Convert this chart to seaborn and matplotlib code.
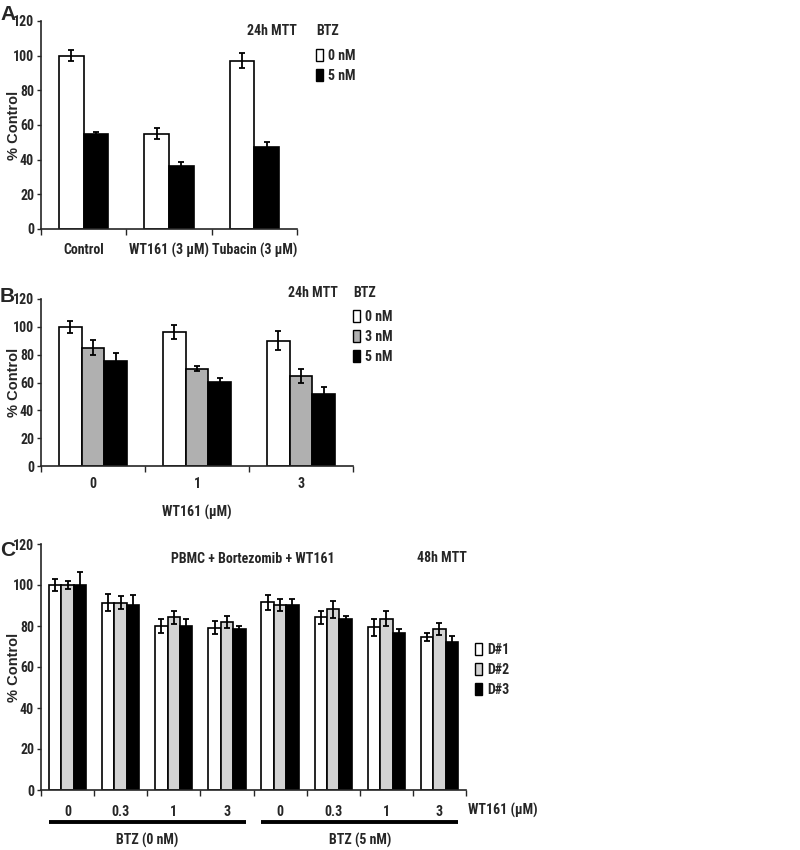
import matplotlib
matplotlib.use('Agg')
import matplotlib.pyplot as plt
import matplotlib.transforms as mtransforms
from matplotlib import font_manager
from matplotlib.patches import Patch
import numpy as np
import pandas as pd
import seaborn as sns

# ---- data ----
# panel A
a_groups = ['Control', 'WT161 (3 μM)', 'Tubacin (3 μM)']
a_btz = ['0 nM', '5 nM']
a_mean_0nm = [100, 55, 97]
a_mean_5nm = [55, 36.5, 47.5]
a_err_0nm = [3.2, 3.2, 4.3]
a_err_5nm = [1.0, 2.3, 2.5]

# panel B
b_wt161 = ['0', '1', '3']
b_btz = ['0 nM', '3 nM', '5 nM']
b_mean_0nm = [100, 96, 90]
b_mean_3nm = [85, 70, 65]
b_mean_5nm = [75.5, 60.5, 52]
b_err_0nm = [4.4, 5.0, 7.0]
b_err_3nm = [5.4, 2.0, 5.0]
b_err_5nm = [5.5, 3.0, 5.0]

# panel C
c_wt161 = ['0', '0.3', '1', '3']
c_btz = ['BTZ (0 nM)', 'BTZ (5 nM)']
c_donors = ['D#1', 'D#2', 'D#3']
c_mean_d1 = [100, 91.4, 80, 79.2, 91.5, 84.2, 79.3, 74.5]
c_mean_d2 = [100, 91.4, 84.2, 82, 90.2, 88.1, 83.6, 78.5]
c_mean_d3 = [100.2, 90.2, 80, 78.4, 90.2, 83.6, 76.4, 72.2]
c_err_d1 = [2.8, 4.0, 3.5, 3.0, 3.7, 3.0, 4.3, 2.0]
c_err_d2 = [2.0, 3.0, 3.0, 3.0, 2.8, 4.0, 3.7, 3.0]
c_err_d3 = [6.0, 5.0, 3.5, 1.5, 2.8, 1.4, 2.0, 3.0]

sns.set_style('ticks')


def pick_narrow():
    # the original uses a narrow bold face; take one if the machine has it
    fl = font_manager.fontManager.ttflist
    names = {f.name for f in fl}
    for n in ['Liberation Sans Narrow', 'Arial Narrow', 'Roboto Condensed',
              'Open Sans Condensed', 'DejaVu Sans Condensed', 'Noto Sans Condensed']:
        if n in names:
            return n, 'normal', True
    for f in fl:
        if 'Narrow' in f.name or 'Condensed' in f.name:
            return f.name, 'normal', True
    for f in fl:
        if str(f.stretch) in ('condensed', 'semi-condensed'):
            return f.name, str(f.stretch), True
    return 'Liberation Sans', 'normal', False


narrow, stretch, found = pick_narrow()
plt.rcParams['font.family'] = [narrow, 'DejaVu Sans']
plt.rcParams['font.stretch'] = stretch
plt.rcParams['font.weight'] = 'bold'
plt.rcParams['axes.linewidth'] = 1.2

FS = 10 if found else 8.5
WIDE = ['Liberation Sans', 'DejaVu Sans']


def long_df(cats, levels, means, errs):
    rows = []
    for lev, m, e in zip(levels, means, errs):
        for c, v, err in zip(cats, m, e):
            rows.append({'cat': c, 'level': lev, 'value': v, 'err': err})
    return pd.DataFrame(rows)


def panel(ax, df, cats, levels, colors, width):
    sns.barplot(data=df, x='cat', y='value', hue='level', order=cats,
                hue_order=levels, palette=colors, width=width, gap=0,
                edgecolor='black', linewidth=1.2, errorbar=None,
                legend=False, saturation=1, ax=ax)
    for lev, cont in zip(levels, ax.containers):
        sub = df[df['level'] == lev].set_index('cat').loc[cats]
        xs = [b.get_x() + b.get_width() / 2 for b in cont]
        ax.errorbar(xs, sub['value'], yerr=sub['err'], fmt='none',
                    ecolor='black', elinewidth=1.3, capsize=2.5,
                    capthick=1.3, zorder=5)
    n = len(cats)
    ax.set_xlim(-0.5, n - 0.5)
    ax.set_ylim(0, 120)
    ax.set_yticks(range(0, 121, 20))
    ax.set_xticks(np.arange(-0.5, n, 1.0), minor=True)
    ax.tick_params(axis='x', which='major', length=0, pad=8, labelsize=FS)
    ax.tick_params(axis='x', which='minor', length=4, width=1.0, direction='out')
    ax.tick_params(axis='y', length=3, width=1.0, labelsize=FS, pad=2)
    ax.set_ylabel('% Control', fontsize=10.5, fontweight='bold', family=WIDE)
    ax.set_xlabel('')
    sns.despine(ax=ax)
    handles = [Patch(facecolor=c, edgecolor='black', linewidth=1.0) for c in colors]
    return handles


fig = plt.figure(figsize=(8, 8.5), dpi=100)

leg_kw = dict(frameon=False, fontsize=FS, handlelength=0.5, handleheight=1.0,
              handletextpad=0.35, labelspacing=0.42, borderpad=0,
              borderaxespad=0, loc='upper left', bbox_transform=fig.transFigure)


def place_ylabel(ax, width_px):
    # right edge of the rotated label at x = 21 px of the figure
    ax.yaxis.set_label_coords((21 - 41) / width_px, 0.5)


def fig_text(x_px, y_px, s, **kw):
    return fig.text(x_px / 800, 1 - y_px / 850, s, va='center', fontsize=FS, **kw)


# ---- A ----
axA = fig.add_axes([41 / 800, 1 - 229 / 850, 256 / 800, 208 / 850])
dfA = long_df(a_groups, a_btz, [a_mean_0nm, a_mean_5nm], [a_err_0nm, a_err_5nm])
hA = panel(axA, dfA, a_groups, a_btz, ['white', 'black'], 0.575)
axA.tick_params(axis='x', which='major', pad=10)
place_ylabel(axA, 256)
axA.legend(hA, a_btz, bbox_to_anchor=(316 / 800, 1 - 49 / 850), **leg_kw)
fig_text(297, 31, '24h MTT', ha='right')
fig_text(316, 31, 'BTZ', ha='left')

# ---- B ----
axB = fig.add_axes([41 / 800, 1 - 466 / 850, 312 / 800, 167 / 850])
dfB = long_df(b_wt161, b_btz, [b_mean_0nm, b_mean_3nm, b_mean_5nm],
              [b_err_0nm, b_err_3nm, b_err_5nm])
hB = panel(axB, dfB, b_wt161, b_btz, ['white', '#b0b0b0', 'black'], 0.66)
axB.tick_params(axis='x', which='major', pad=8)
axB.set_xlabel('WT161 (μM)', fontsize=FS, fontweight='bold', labelpad=10)
place_ylabel(axB, 312)
axB.legend(hB, b_btz, bbox_to_anchor=(353 / 800, 1 - 310 / 850), **leg_kw)
fig_text(338, 293, '24h MTT', ha='right')
fig_text(353, 293, 'BTZ', ha='left')

# ---- C ----
axC = fig.add_axes([41 / 800, 1 - 790 / 850, 425 / 800, 246 / 850])
c_cats = [f'{b}|{w}' for b in c_btz for w in c_wt161]
dfC = long_df(c_cats, c_donors, [c_mean_d1, c_mean_d2, c_mean_d3],
              [c_err_d1, c_err_d2, c_err_d3])
hC = panel(axC, dfC, c_cats, c_donors, ['white', '#d3d3d3', 'black'], 0.70)
axC.set_xticks(range(len(c_cats)))
axC.set_xticklabels(c_wt161 * len(c_btz))
axC.tick_params(axis='x', which='major', pad=11)
place_ylabel(axC, 425)
axC.legend(hC, c_donors, bbox_to_anchor=(475 / 800, 1 - 643 / 850), **leg_kw)
axC.text(1.005, -20 / 246, 'WT161 (μM)', transform=axC.transAxes, ha='left',
         va='center', fontsize=FS)
trans = mtransforms.blended_transform_factory(axC.transData, axC.transAxes)
nw = len(c_wt161)
for i, lab in enumerate(c_btz):
    x0 = i * nw - 0.35
    x1 = i * nw + nw - 1 + 0.35
    axC.plot([x0, x1], [-32 / 246, -32 / 246], color='black', lw=2.8,
             transform=trans, clip_on=False, solid_capstyle='butt')
    axC.text((x0 + x1) / 2, -50 / 246, lab, transform=trans, ha='center',
             va='center', fontsize=FS)
fig_text(253, 559, 'PBMC + Bortezomib + WT161', ha='center')
fig_text(442, 558, '48h MTT', ha='center')

# panel letters
for lab, y in [('A', 15), ('B', 297), ('C', 551)]:
    fig.text(0.0, 1 - y / 850, lab, ha='left', va='center', fontsize=15,
             fontweight='bold', family=WIDE)

fig.savefig('out.png', dpi=100, facecolor='white')
